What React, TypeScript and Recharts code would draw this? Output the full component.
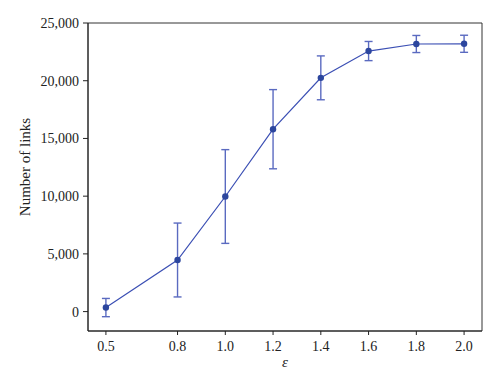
import * as React from "react"
import {
  ComposedChart,
  Line,
  XAxis,
  YAxis,
  ErrorBar,
  ReferenceArea,
  Label,
} from "recharts"

const epsilonValues = [0.5, 0.8, 1.0, 1.2, 1.4, 1.6, 1.8, 2.0]
const linkCounts = [350, 4470, 9970, 15800, 20250, 22570, 23180, 23200]
const linkErrors = [790, 3200, 4060, 3430, 1900, 830, 740, 740]
const xTicks = [0.5, 0.8, 1.0, 1.2, 1.4, 1.6, 1.8, 2.0]
const yTicks = [0, 5000, 10000, 15000, 20000, 25000]

const X_DOMAIN: [number, number] = [0.425, 2.075]
const Y_DOMAIN: [number, number] = [-1680, 25000]

const FONT = "'Liberation Serif', 'DejaVu Serif', serif"
const LINE_COLOR = "#3B4FB4"
const DOT_COLOR = "#2C469E"
const ERR_COLOR = "#5A6AC0"

export default function App() {
  const data = React.useMemo(
    () =>
      epsilonValues.map((eps, i) => ({
        eps,
        links: linkCounts[i],
        err: linkErrors[i],
      })),
    []
  )

  return (
    <div style={{ position: "absolute", left: 0, top: 0, background: "#fff" }}>
      <ComposedChart
        width={500}
        height={386}
        data={data}
        margin={{ top: 23, right: 18, left: 0, bottom: 0 }}
      >
        <XAxis
          dataKey="eps"
          type="number"
          domain={X_DOMAIN}
          ticks={xTicks}
          allowDataOverflow
          height={55}
          stroke="#222"
          tickSize={4}
          tickMargin={6}
          tick={{ fill: "#222", fontSize: 14, fontFamily: FONT }}
          tickFormatter={(v: number) => v.toFixed(1)}
        >
          <Label
            content={({ viewBox }: any) => (
              <text
                x={viewBox.x + viewBox.width / 2}
                y={viewBox.y + 36}
                textAnchor="middle"
                fontSize={15}
                fontStyle="italic"
                fontFamily={FONT}
                fill="#222"
              >
                ε
              </text>
            )}
          />
        </XAxis>
        <YAxis
          type="number"
          domain={Y_DOMAIN}
          ticks={yTicks}
          allowDataOverflow
          width={88}
          stroke="#222"
          tickSize={5}
          tickMargin={4}
          tick={{ fill: "#222", fontSize: 14, fontFamily: FONT }}
          tickFormatter={(v: number) => v.toLocaleString("en-US")}
        >
          <Label
            content={() => (
              <text
                x={25}
                y={167}
                transform="rotate(-90 25 167)"
                textAnchor="middle"
                dominantBaseline="central"
                fontSize={15}
                fontFamily={FONT}
                fill="#222"
              >
                Number of links
              </text>
            )}
          />
        </YAxis>
        <ReferenceArea
          x1={X_DOMAIN[0]}
          x2={X_DOMAIN[1]}
          y1={Y_DOMAIN[0]}
          y2={Y_DOMAIN[1]}
          fill="none"
          stroke="#333"
          strokeWidth={1}
          ifOverflow="visible"
        />
        <Line
          dataKey="links"
          type="linear"
          stroke={LINE_COLOR}
          strokeWidth={1.2}
          dot={{ r: 3.2, fill: DOT_COLOR, stroke: DOT_COLOR, strokeWidth: 0 }}
          activeDot={false}
          isAnimationActive={false}
        >
          <ErrorBar
            dataKey="err"
            direction="y"
            width={4}
            stroke={ERR_COLOR}
            strokeWidth={1.4}
            isAnimationActive={false}
          />
        </Line>
      </ComposedChart>
    </div>
  )
}
